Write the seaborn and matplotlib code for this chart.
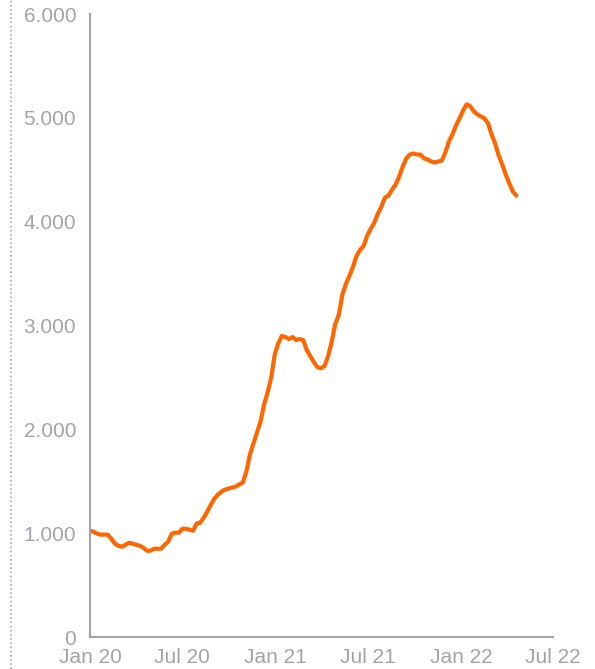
import numpy as np
import pandas as pd
import matplotlib
matplotlib.use("Agg")
import matplotlib.pyplot as plt
import matplotlib.dates as mdates
from matplotlib.lines import Line2D
from matplotlib.ticker import FuncFormatter
import seaborn as sns

# weekly series, starting Wed 1 Jan 2020
start_date = "2020-01-01"
values = [
    1024, 1014, 995, 986, 986, 986, 947, 899, 879, 870,
    889, 908, 899, 889, 879, 860, 831, 831, 850, 850,
    850, 889, 918, 995, 1005, 1005, 1043, 1043, 1034, 1024,
    1092, 1101, 1150, 1208, 1275, 1333, 1372, 1401, 1420, 1430,
    1440, 1449, 1469, 1488, 1594, 1758, 1865, 1971, 2077, 2242,
    2357, 2502, 2725, 2831, 2899, 2889, 2870, 2889, 2860, 2870,
    2860, 2763, 2705, 2647, 2599, 2589, 2609, 2705, 2841, 3014,
    3101, 3295, 3401, 3478, 3565, 3671, 3729, 3768, 3865, 3932,
    3990, 4077, 4145, 4232, 4251, 4309, 4357, 4435, 4531, 4609,
    4647, 4657, 4647, 4647, 4609, 4599, 4580, 4570, 4580, 4589,
    4667, 4773, 4841, 4928, 4995, 5072, 5130, 5111, 5063, 5034,
    5014, 4995, 4947, 4841, 4754, 4638, 4551, 4454, 4367, 4290,
    4251,
]
dates = pd.date_range(start_date, periods=len(values), freq="7D")
df = pd.DataFrame({"date": dates, "value": values})

line_color = "#FF6600"
grey = "#A3A3AC"

sns.set_style("white")
plt.rcParams["font.family"] = ["Liberation Sans", "DejaVu Sans"]

fig = plt.figure(figsize=(5.95, 6.69), dpi=100)
ax = fig.add_axes([0.1513, 0.0478, 0.9294 - 0.1513, 0.979 - 0.0478])

sns.lineplot(data=df, x="date", y="value", color=line_color, linewidth=3.0, ax=ax)

ax.set_ylim(0, 6000)
ax.set_xlim(pd.Timestamp("2020-01-01"), pd.Timestamp("2022-07-01"))
ax.set_yticks([0, 1000, 2000, 3000, 4000, 5000, 6000])
ax.yaxis.set_major_formatter(FuncFormatter(lambda v, p: f"{int(v):,}".replace(",", ".")))
ax.xaxis.set_major_locator(mdates.MonthLocator(bymonth=[1, 7]))
ax.xaxis.set_major_formatter(mdates.DateFormatter("%b %y"))

ax.set_xlabel("")
ax.set_ylabel("")
for side in ["top", "right"]:
    ax.spines[side].set_visible(False)
for side in ["left", "bottom"]:
    ax.spines[side].set_color(grey)
    ax.spines[side].set_linewidth(1.5)

ax.tick_params(axis="y", length=0, pad=10, labelsize=15, labelcolor=grey)
ax.tick_params(axis="x", length=0, pad=8, labelsize=15, labelcolor=grey)

# dotted frame line on the left edge
fig.add_artist(Line2D([10.5 / 595, 10.5 / 595], [0, 1], transform=fig.transFigure,
                      color="#A8A8B0", linestyle=(0, (1, 1.5)), linewidth=1.2))

fig.savefig("out.png", dpi=100)
